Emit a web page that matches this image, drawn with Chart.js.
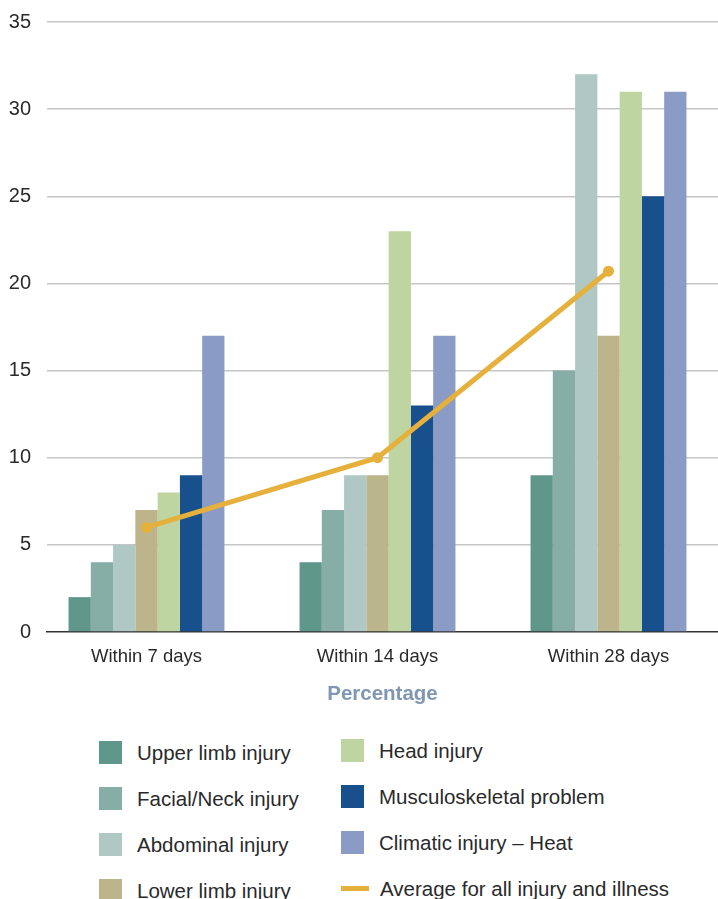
<!DOCTYPE html>
<html>
<head>
<meta charset="utf-8">
<script src="https://cdn.jsdelivr.net/npm/chart.js@4/dist/chart.umd.min.js"></script>
<style>
  html, body { margin: 0; padding: 0; background: #ffffff; }
  body { width: 718px; height: 899px; overflow: hidden; position: relative;
         font-family: "Liberation Sans", Arial, sans-serif; }
  #wrap { position: absolute; left: 0; top: 0; width: 718px; height: 715px; }
  .leg { position: absolute; display: flex; align-items: center; font-size: 20.5px; color: #2a2a2a; white-space: nowrap; }
  .sw { width: 23px; height: 23px; margin-right: 15px; flex: none; }
  .ln { width: 28px; height: 5px; margin-right: 11px; flex: none; }
</style>
</head>
<body>
<div id="wrap"><canvas id="c"></canvas></div>
<div id="legend"></div>
<script>
// Time since arrival and share of personnel (%) by type of injury
const periods = ['Within 7 days', 'Within 14 days', 'Within 28 days'];

const upperLimb       = [2, 4, 9];
const facialNeck      = [4, 7, 15];
const abdominal       = [5, 9, 32];
const lowerLimb       = [7, 9, 17];
const headInjury      = [8, 23, 31];
const musculoskeletal = [9, 13, 25];
const climaticHeat    = [17, 17, 31];
const averageAll      = [6, 10, 20.7];

const barNames  = ['Upper limb injury', 'Facial/Neck injury', 'Abdominal injury', 'Lower limb injury',
                   'Head injury', 'Musculoskeletal problem', 'Climatic injury \u2013 Heat'];
const barSeries = [upperLimb, facialNeck, abdominal, lowerLimb, headInjury, musculoskeletal, climaticHeat];
const barColors = ['#5f978b', '#86aea6', '#afc8c4', '#bcb48a', '#bed5a1', '#18508e', '#8a9bc6'];
const lineName  = 'Average for all injury and illness';
const lineColor = '#e5b03b';

const yTicks = [0, 5, 10, 15, 20, 25, 30, 35];

const FONT = '"Liberation Sans", Arial, sans-serif';

const datasets = [{
  type: 'line',
  label: lineName,
  data: averageAll,
  borderColor: lineColor,
  backgroundColor: lineColor,
  borderWidth: 5,
  pointRadius: 5.5,
  pointHoverRadius: 5.5,
  pointBorderWidth: 0,
  tension: 0,
  fill: false
}].concat(barSeries.map((vals, i) => ({
  type: 'bar',
  label: barNames[i],
  data: vals,
  backgroundColor: barColors[i],
  borderWidth: 0,
  categoryPercentage: 0.675,
  barPercentage: 1.0
})));

// The category band is a little wider than the plot area and starts left of it,
// so the groups sit closer to the left axis.
const categoryBand = {
  id: 'categoryBand',
  afterLayout(chart) {
    const x = chart.scales.x;
    x._startPixel = 31;
    x._endPixel = 724;
    x._length = x._endPixel - x._startPixel;
  }
};

new Chart(document.getElementById('c'), {
  data: { labels: periods, datasets },
  plugins: [categoryBand],
  options: {
    responsive: true,
    maintainAspectRatio: false,
    animation: false,
    layout: { autoPadding: false, padding: { top: 22, right: 0, left: 0, bottom: 0 } },
    plugins: { legend: { display: false }, tooltip: { enabled: false } },
    scales: {
      x: {
        offset: true,
        grid: { display: false, drawTicks: false },
        border: { display: true, color: '#333333', width: 1.5 },
        ticks: { color: '#2a2a2a', font: { family: FONT, size: 18.5 }, padding: 14, maxRotation: 0 },
        title: { display: true, text: 'Percentage', color: '#7f97b2',
                 font: { family: FONT, size: 20.5, weight: 'bold' }, padding: { top: 0, bottom: 8 } },
        afterFit: s => { s.height = 83; s.paddingLeft = 0; s.paddingRight = 0; }
      },
      y: {
        min: 0, max: 35,
        afterBuildTicks: s => { s.ticks = yTicks.map(v => ({ value: v })); },
        grid: { color: ctx => ctx.tick && ctx.tick.value === 0 ? 'rgba(0,0,0,0)' : '#c6c6c6',
                lineWidth: 1.5, drawTicks: false },
        border: { display: false },
        ticks: { color: '#2a2a2a', font: { family: FONT, size: 20 }, padding: 16 },
        afterFit: s => { s.width = 47; s.paddingTop = 0; s.paddingBottom = 0; }
      }
    }
  }
});

// Two-column legend below the chart, built from the series names and colours
const legend = document.getElementById('legend');
const leftCol = { x: 99, y: 741 }, rightCol = { x: 341, y: 739 }, rowGap = 46;
const items = barNames.map((n, i) => ({ name: n, color: barColors[i], line: false }))
  .concat([{ name: lineName, color: lineColor, line: true }]);
items.forEach((it, i) => {
  const col = i < 4 ? leftCol : rightCol;
  const row = i < 4 ? i : i - 4;
  const el = document.createElement('div');
  el.className = 'leg';
  el.style.left = col.x + 'px';
  el.style.top = (col.y + row * rowGap) + 'px';
  el.style.height = '23px';
  const mark = document.createElement('span');
  mark.className = it.line ? 'ln' : 'sw';
  mark.style.background = it.color;
  const txt = document.createElement('span');
  txt.textContent = it.name;
  el.appendChild(mark);
  el.appendChild(txt);
  legend.appendChild(el);
});
</script>
</body>
</html>
